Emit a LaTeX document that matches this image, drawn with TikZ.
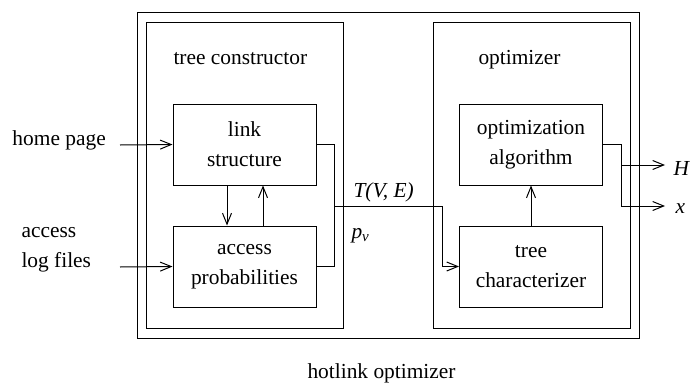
\documentclass[tikz,border=0pt]{standalone}
\usepackage{fontspec}
\setmainfont{Liberation Serif}
\usetikzlibrary{arrows.meta}
\tikzset{
  box/.style={draw, line width=1pt, minimum width=143pt, minimum height=81pt, inner sep=0pt, align=center},
  frame/.style={draw, line width=1pt, minimum width=197pt, minimum height=306pt, inner sep=0pt},
  txt/.style={inner sep=0pt, anchor=base west}
}
\begin{document}
\begin{tikzpicture}[x=1pt, y=-1pt, font=\fontsize{21.4}{30}\selectfont, line width=1pt]
      \useasboundingbox (0,0) rectangle (691,383);
      \draw
        (388,175) node[draw, minimum width=502pt, minimum height=326pt, inner sep=0pt] (hotlink){}
        (244.5,175) node[frame] (constructor){}
        (531.5,175) node[frame] (optimizer){}
        (244.5,144.5) node[box] (link){link\\structure}
        (244.5,266.5) node[box] (access){access\\probabilities}
        (531,144.5) node[box] (algorithm){optimization\\algorithm}
        (531,266.5) node[box] (characterizer){tree\\characterizer};
      \draw
        (173,64) node[txt] (constructorlabel){tree constructor}
        (478,64) node[txt] (optimizerlabel){optimizer}
        (307,378) node[txt] (hotlinklabel){hotlink optimizer}
        (12,145) node[txt] (homepage){home page}
        (21,267) node[txt, align=left] (logfiles){access\\log files}
        (353,197) node[txt] (tree){\itshape T(V, E)}
        (351,238) node[txt] (prob){\itshape p\raisebox{-0.35ex}{\fontsize{15}{15}\selectfont v}}
        (673,175) node[txt] (hout){\itshape H}
        (675,213) node[txt] (xout){\itshape x};
      \coordinate (homein) at (120,145);
      \coordinate (login) at (120,267);
      \coordinate (merge) at (334,206);
      \coordinate (bend) at (442,206);
      \coordinate (splitH) at (621,165);
      \coordinate (splitx) at (621,206);
      \coordinate (outH) at (665,165);
      \coordinate (outx) at (665,206);
      \begin{scope}[-{Straight Barb[length=11pt,width=9pt]}]
        \draw (homein) to (link.west);
        \draw (login) to (access.west);
        \draw ([xshift=-17.5pt]link.south) to ([xshift=-17.5pt]access.north);
        \draw ([xshift=18.5pt]access.north) to ([xshift=18.5pt]link.south);
        \draw (merge) -- (bend) |- (characterizer.west);
        \draw (characterizer) to (algorithm);
        \draw (splitH) to (outH);
        \draw (splitx) to (outx);
      \end{scope}
      \begin{scope}[-]
        \draw (link.east) -| (merge);
        \draw (access.east) -| (merge);
        \draw (algorithm.east) -| (splitx);
      \end{scope}
    \end{tikzpicture}
\end{document}
